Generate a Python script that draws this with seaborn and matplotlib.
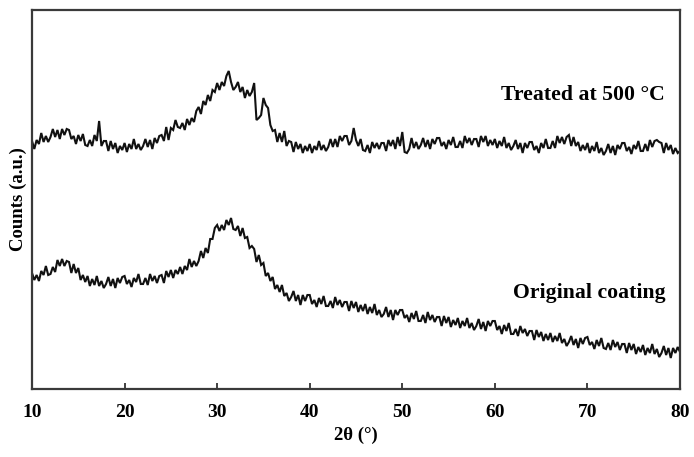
import numpy as np
import pandas as pd
import matplotlib
matplotlib.use("Agg")
import matplotlib.pyplot as plt
import seaborn as sns

# ---- data (y in arbitrary counts) ----
two_theta_start = 10.0
two_theta_step = 0.25

treated = [
    248, 240, 249, 245, 256, 247, 253, 247,
    252, 260, 252, 259, 250, 260, 254, 260,
    259, 250, 253, 245, 254, 248, 255, 244,
    243, 249, 243, 254, 248, 268, 243, 248,
    248, 238, 248, 240, 246, 236, 243, 239,
    246, 237, 245, 240, 250, 240, 245, 239,
    243, 250, 242, 249, 240, 251, 246, 253,
    254, 248, 262, 249, 261, 259, 269, 262,
    261, 266, 259, 270, 264, 271, 267, 278,
    282, 275, 288, 284, 294, 288, 299, 297,
    306, 299, 307, 303, 313, 318, 307, 299,
    302, 307, 297, 302, 291, 299, 293, 297,
    306, 269, 271, 274, 291, 284, 281, 264,
    258, 259, 247, 256, 247, 258, 243, 248,
    247, 237, 247, 240, 245, 236, 243, 238,
    245, 236, 243, 239, 248, 239, 244, 238,
    242, 250, 242, 250, 242, 253, 248, 253,
    253, 244, 248, 261, 249, 243, 250, 239,
    238, 244, 236, 247, 241, 246, 240, 246,
    246, 238, 249, 243, 249, 240, 252, 243,
    257, 237, 236, 240, 251, 241, 247, 240,
    244, 251, 242, 249, 240, 250, 245, 251,
    251, 243, 247, 240, 249, 244, 252, 242,
    242, 248, 241, 253, 246, 251, 244, 250,
    250, 242, 253, 247, 253, 243, 249, 244,
    250, 241, 248, 243, 252, 241, 246, 239,
    243, 249, 240, 246, 236, 246, 241, 247,
    247, 239, 243, 236, 246, 241, 250, 241,
    241, 248, 241, 253, 246, 252, 245, 252,
    254, 243, 252, 243, 247, 238, 244, 239,
    246, 236, 243, 238, 247, 236, 241, 234,
    238, 245, 236, 243, 234, 244, 240, 246,
    246, 238, 242, 235, 244, 240, 248, 238,
    238, 245, 238, 249, 242, 248, 249, 247,
    246, 236, 246, 239, 244, 235, 241, 236,
    238,
]

original = [
    116, 109, 114, 108, 118, 114, 123, 114,
    115, 122, 117, 129, 123, 130, 123, 128,
    127, 116, 125, 116, 121, 109, 114, 107,
    113, 103, 110, 104, 113, 103, 108, 101,
    105, 112, 103, 110, 101, 111, 106, 112,
    113, 105, 109, 102, 111, 107, 115, 105,
    105, 111, 104, 115, 108, 113, 106, 113,
    114, 106, 118, 112, 119, 111, 119, 115,
    122, 115, 123, 119, 130, 122, 128, 123,
    128, 138, 131, 141, 136, 150, 150, 161,
    164, 158, 164, 159, 169, 164, 171, 160,
    159, 163, 153, 161, 151, 152, 141, 143,
    140, 127, 134, 124, 126, 113, 116, 108,
    112, 100, 104, 97, 104, 93, 96, 88,
    92, 98, 88, 94, 84, 94, 88, 94,
    94, 85, 89, 82, 91, 85, 93, 83,
    83, 88, 81, 92, 84, 89, 82, 87,
    87, 78, 88, 81, 87, 77, 84, 78,
    85, 75, 82, 76, 85, 74, 79, 72,
    75, 82, 72, 79, 69, 79, 74, 79,
    79, 71, 74, 67, 76, 70, 78, 68,
    68, 74, 66, 77, 69, 74, 67, 72,
    72, 63, 73, 66, 72, 62, 69, 64,
    71, 61, 68, 63, 71, 61, 66, 59,
    63, 70, 60, 67, 58, 68, 63, 68,
    68, 59, 63, 55, 64, 58, 66, 55,
    55, 60, 53, 63, 56, 60, 53, 58,
    58, 49, 59, 52, 57, 48, 55, 49,
    56, 47, 53, 48, 56, 46, 50, 43,
    47, 53, 44, 50, 41, 51, 45, 51,
    52, 44, 47, 40, 49, 43, 51, 41,
    40, 46, 39, 49, 42, 47, 39, 45,
    45, 36, 46, 39, 45, 35, 42, 37,
    44, 34, 41, 36, 45, 35, 40, 32,
    36, 43, 34, 41, 31, 41, 36, 42,
    37,
]

series_names = ["Treated at 500 °C", "Original coating"]
x_ticks = [10, 20, 30, 40, 50, 60, 70, 80]
x_label = "2θ (°)"
y_label = "Counts (a.u.)"

# ---- build long table ----
n = len(treated)
two_theta = np.round(two_theta_start + two_theta_step * np.arange(n), 2)
df = pd.concat([
    pd.DataFrame({"2theta": two_theta, "counts": treated, "sample": series_names[0]}),
    pd.DataFrame({"2theta": two_theta, "counts": original, "sample": series_names[1]}),
], ignore_index=True)

sns.set_style("white")
plt.rcParams["font.family"] = ["Liberation Serif", "DejaVu Serif"]
plt.rcParams["font.weight"] = "bold"
plt.rcParams["text.color"] = "black"
plt.rcParams["axes.labelcolor"] = "black"
plt.rcParams["xtick.color"] = "black"

fig = plt.figure(figsize=(6.94, 4.57), dpi=100)
ax = fig.add_axes([32 / 694, 1 - 389 / 457, 648 / 694, 379 / 457])

sns.lineplot(data=df, x="2theta", y="counts", hue="sample",
             palette=["#111111", "#111111"], linewidth=1.5, legend=False,
             ax=ax, estimator=None, sort=False)
for ln in ax.lines:
    ln.set_solid_joinstyle("miter")

ax.set_xlim(10, 80)
ax.set_ylim(0, 379)
ax.set_xticks(x_ticks)
ax.set_xticklabels([str(t) for t in x_ticks], fontsize=14, fontweight="bold")
ax.set_yticks([])
ax.tick_params(axis="x", direction="in", length=4, width=1.3, color="#333333",
               labelcolor="black", pad=11, bottom=True, top=False)

for sp in ax.spines.values():
    sp.set_visible(True)
    sp.set_color("#3a3a3a")
    sp.set_linewidth(1.6)

ax.set_xlabel(x_label, fontsize=13.5, fontweight="bold", labelpad=4, color="black")
ax.set_ylabel(y_label, fontsize=13.5, fontweight="bold", color="black")
ax.yaxis.set_label_coords(-0.008, 0.5)

ax.text(78.4, 294, series_names[0], ha="right", va="center",
        fontsize=15.7, fontweight="bold", color="black")
ax.text(78.4, 96, series_names[1], ha="right", va="center",
        fontsize=15.7, fontweight="bold", color="black")

fig.savefig("out.png", dpi=100)
